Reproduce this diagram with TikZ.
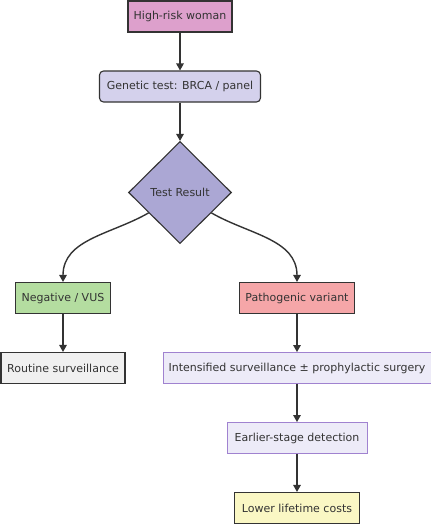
\documentclass[tikz,border=0pt]{standalone}
\usepackage{fontspec}
\setmainfont{DejaVu Sans}
\usetikzlibrary{shapes.geometric,arrows.meta}

\definecolor{riskfill}{RGB}{221,160,204}
\definecolor{testfill}{RGB}{212,209,236}
\definecolor{resfill}{RGB}{171,167,212}
\definecolor{negfill}{RGB}{180,221,160}
\definecolor{patfill}{RGB}{245,166,168}
\definecolor{routfill}{RGB}{240,240,240}
\definecolor{stepfill}{RGB}{237,235,248}
\definecolor{stepline}{RGB}{160,130,208}
\definecolor{costfill}{RGB}{250,247,196}
\definecolor{ink}{RGB}{51,51,51}

\begin{document}
\begin{tikzpicture}[
  x=1pt, y=-1pt,
  box/.style={
    draw=ink, line width=1.1pt, rectangle,
    minimum height=31pt, inner sep=0pt,
    font=\fontsize{11}{13}\selectfont, text=ink, align=center
  },
  softbox/.style={box, draw=stepline, line width=0.9pt, fill=stepfill},
  arr/.style={-{Triangle[length=7pt,width=7.5pt]}, line width=1.4pt, draw=ink},
]

\useasboundingbox (0,0) rectangle (431,525);

% top of the chart
\node[box, fill=riskfill, minimum width=104pt] (risk) at (180,16.5)
  {High-risk woman};
\node[box, fill=testfill, rounded corners=4pt, minimum width=161pt] (test) at (180,86.5)
  {Genetic test: BRCA / panel};
\node[box, diamond, fill=resfill, minimum width=103pt, minimum height=102pt] (result) at (180,192.5)
  {Test Result};

% the two branches
\node[box, fill=negfill, minimum width=95pt] (neg) at (63,298)
  {Negative / VUS};
\node[box, fill=patfill, minimum width=115pt] (path) at (297,298)
  {Pathogenic variant};
\node[box, fill=routfill, minimum width=124pt] (routine) at (63,368)
  {Routine surveillance};
\node[softbox, minimum width=268pt] (intens) at (297,368)
  {Intensified surveillance \textpm{} prophylactic surgery};
\node[softbox, minimum width=140pt] (early) at (297,438)
  {Earlier-stage detection};
\node[box, fill=costfill, minimum width=125pt] (costs) at (297,508)
  {Lower lifetime costs};

\draw[arr] (risk) -- (test);
\draw[arr] (test) -- (result);
\draw[arr] (result.213) to[out=210, in=90] (neg.north);
\draw[arr] (result.-33) to[out=-30, in=90] (path.north);
\draw[arr] (neg) -- (routine);
\draw[arr] (path) -- (intens);
\draw[arr] (intens) -- (early);
\draw[arr] (early) -- (costs);

\end{tikzpicture}
\end{document}
